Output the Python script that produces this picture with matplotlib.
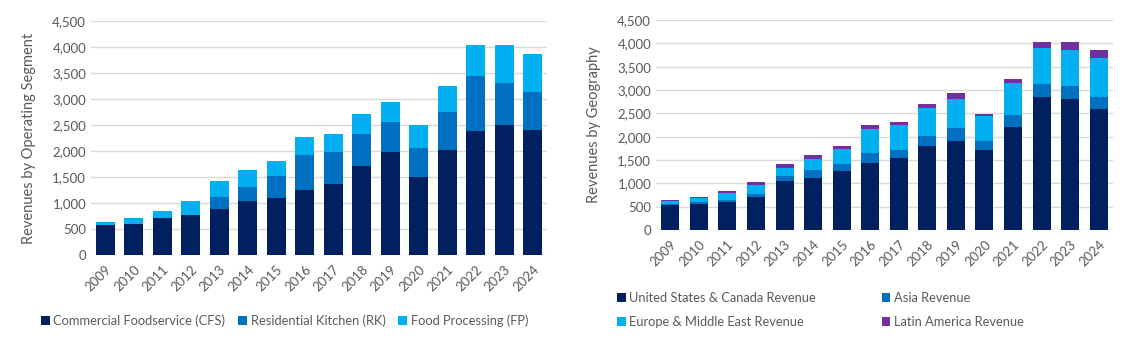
import numpy as np
import matplotlib
matplotlib.use('Agg')
import matplotlib.pyplot as plt
from matplotlib.ticker import FuncFormatter, MultipleLocator

plt.rcParams['font.family'] = ['Lato', 'DejaVu Sans']

years = [str(y) for y in range(2009, 2025)]

# revenues by operating segment
cfs = [570, 596, 711, 769, 885, 1038, 1103, 1250, 1372, 1718, 1974, 1500, 2019, 2378, 2506, 2410]
rk = [10, 0, 0, 0, 230, 270, 423, 667, 602, 603, 577, 564, 737, 1058, 802, 725]
fp = [61, 115, 135, 263, 308, 320, 288, 352, 347, 391, 391, 442, 494, 596, 724, 737]

# revenues by geography
us_can = [530, 560, 600, 700, 1040, 1110, 1255, 1445, 1545, 1790, 1910, 1715, 2210, 2860, 2810, 2595]
asia = [20, 45, 45, 70, 110, 175, 165, 200, 170, 230, 270, 200, 245, 275, 280, 260]
europe = [80, 85, 150, 185, 180, 230, 325, 520, 525, 600, 635, 525, 685, 755, 770, 830]
latam = [10, 20, 40, 65, 80, 95, 65, 75, 75, 85, 125, 50, 95, 135, 165, 180]

navy = '#002060'
mid = '#0070C0'
light = '#00B0F0'
purple = '#7030A0'
txt = '#595959'
grid = '#D9D9D9'

W, H = 1142, 341
fig = plt.figure(figsize=(W / 100, H / 100), dpi=100)


def px_axes(x0, y0, x1, y1):
    return fig.add_axes([x0 / W, 1 - y1 / H, (x1 - x0) / W, (y1 - y0) / H])


def style(ax, ylabel):
    ax.set_ylim(0, 4500)
    ax.set_xlim(-0.5, len(years) - 0.5)
    ax.yaxis.set_major_locator(MultipleLocator(500))
    ax.yaxis.set_major_formatter(FuncFormatter(lambda v, p: f'{int(v):,}'))
    ax.grid(axis='y', color=grid, linewidth=1)
    ax.set_axisbelow(True)
    for s in ax.spines.values():
        s.set_visible(False)
    ax.tick_params(axis='both', length=0, colors=txt, labelsize=9.5)
    ax.set_xticks(range(len(years)))
    ax.set_xticklabels(years, rotation=45, ha='right', rotation_mode='anchor')
    ax.tick_params(axis='x', pad=6)
    ax.set_ylabel(ylabel, color=txt, fontsize=10.5)


x = np.arange(len(years))

ax1 = px_axes(91, 21, 547, 255)
b1 = ax1.bar(x, cfs, 0.66, color=navy, label='Commercial Foodservice (CFS)')
b2 = ax1.bar(x, rk, 0.66, bottom=cfs, color=mid, label='Residential Kitchen (RK)')
b3 = ax1.bar(x, fp, 0.66, bottom=np.add(cfs, rk), color=light, label='Food Processing (FP)')
style(ax1, 'Revenues by Operating Segment')
ax1.yaxis.set_label_coords(-0.12, 0.5)
fig.legend(handles=[b1, b2, b3], loc='center left', bbox_to_anchor=(36 / W, 1 - 321 / H),
           ncol=3, frameon=False, fontsize=9.3, labelcolor=txt, handlelength=0.65,
           handleheight=0.65, handletextpad=0.3, columnspacing=1.0, borderaxespad=0)

ax2 = px_axes(656, 20, 1113, 230)
c1 = ax2.bar(x, us_can, 0.63, color=navy, label='United States & Canada Revenue')
c2 = ax2.bar(x, asia, 0.63, bottom=us_can, color=mid, label='Asia Revenue')
c3 = ax2.bar(x, europe, 0.63, bottom=np.add(us_can, asia), color=light,
             label='Europe & Middle East Revenue')
c4 = ax2.bar(x, latam, 0.63, bottom=np.add(np.add(us_can, asia), europe), color=purple,
             label='Latin America Revenue')
style(ax2, 'Revenues by Geography')
ax2.yaxis.set_label_coords(-0.12, 0.5)
fig.legend(handles=[c1, c3, c2, c4], loc='upper left', bbox_to_anchor=(612 / W, 1 - 287 / H),
           ncol=2, frameon=False, fontsize=9.3, labelcolor=txt, handlelength=0.65,
           handleheight=0.65, handletextpad=0.3, columnspacing=5.1, labelspacing=0.9,
           borderaxespad=0)

fig.savefig('out.png', dpi=100)
